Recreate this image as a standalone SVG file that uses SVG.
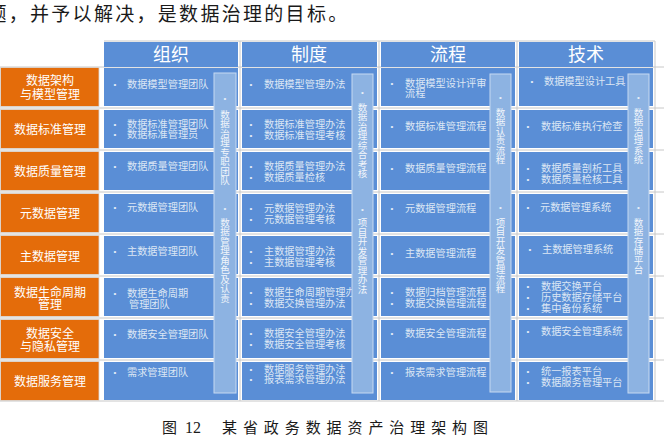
<svg xmlns="http://www.w3.org/2000/svg" width="664" height="437" viewBox="0 0 664 437">
<style>
.cjk{font-family:"Noto Sans CJK SC","Noto Sans",sans-serif}
.hd{fill:#5A8ED6}
.cell{fill:#5A8ED6}
.org{fill:#E46C0A;stroke:#D9D9D9;stroke-width:0.8}
.bar{fill:#8DB3E2;stroke:#C6D9F1;stroke-width:1}
.grid{stroke:#C8C8C8;stroke-width:1}
.ht{font-size:18px;fill:#FFFFFF;text-anchor:middle}
.ot{font-size:12px;fill:#FFFFFF;text-anchor:middle}
.ct{font-size:10.2px;fill:#DCE6F4}
.bu{font-family:"Liberation Sans",sans-serif;font-size:8px;fill:#E6EEF8;text-anchor:middle}
.vt{font-size:9.5px;fill:#F2F6FB;writing-mode:vertical-rl}
</style>
<rect width="664" height="437" fill="#FFFFFF"/>
<text class="cjk" x="-12.6" y="21" font-size="19" letter-spacing="2.3" fill="#1A1A1A">题，并予以解决，是数据治理的目标。</text>

<g id="gridlines">
<line class="grid" x1="0" y1="67" x2="664" y2="67"/>
<line class="grid" x1="0" y1="108" x2="664" y2="108"/>
<line class="grid" x1="0" y1="150" x2="664" y2="150"/>
<line class="grid" x1="0" y1="192" x2="664" y2="192"/>
<line class="grid" x1="0" y1="234" x2="664" y2="234"/>
<line class="grid" x1="0" y1="276" x2="664" y2="276"/>
<line class="grid" x1="0" y1="318" x2="664" y2="318"/>
<line class="grid" x1="0" y1="360" x2="664" y2="360"/>
<line class="grid" x1="0" y1="401" x2="664" y2="401"/>
<line class="grid" x1="104" y1="41" x2="655" y2="41"/>
<line class="grid" x1="240" y1="41" x2="240" y2="401"/>
<line class="grid" x1="379" y1="41" x2="379" y2="401"/>
<line class="grid" x1="517" y1="41" x2="517" y2="401"/>
<line class="grid" x1="655" y1="41" x2="655" y2="401"/>
</g>

<g id="headers">
<g id="h-org"><rect class="hd" x="104" y="42" width="134" height="25"/><text class="cjk ht" x="171" y="61">组织</text></g>
<g id="h-rule"><rect class="hd" x="242" y="42" width="135" height="25"/><text class="cjk ht" x="309" y="61">制度</text></g>
<g id="h-proc"><rect class="hd" x="381" y="42" width="134" height="25"/><text class="cjk ht" x="448" y="61">流程</text></g>
<g id="h-tech"><rect class="hd" x="519" y="42" width="134" height="25"/><text class="cjk ht" x="586" y="61">技术</text></g>
</g>

<g id="rowlabels">
<g id="r1"><rect class="org" x="0.5" y="67.5" width="98.5" height="39"/><text class="cjk ot" x="50" y="84.5">数据架构</text><text class="cjk ot" x="50" y="98.5">与模型管理</text></g>
<g id="r2"><rect class="org" x="0.5" y="109.5" width="98.5" height="39"/><text class="cjk ot" x="50" y="133.5">数据标准管理</text></g>
<g id="r3"><rect class="org" x="0.5" y="151.5" width="98.5" height="39"/><text class="cjk ot" x="50" y="175.5">数据质量管理</text></g>
<g id="r4"><rect class="org" x="0.5" y="193.5" width="98.5" height="39"/><text class="cjk ot" x="50" y="217.5">元数据管理</text></g>
<g id="r5"><rect class="org" x="0.5" y="235.5" width="98.5" height="39"/><text class="cjk ot" x="50" y="260.5">主数据管理</text></g>
<g id="r6"><rect class="org" x="0.5" y="277.5" width="98.5" height="39"/><text class="cjk ot" x="50" y="296.5">数据生命周期</text><text class="cjk ot" x="50" y="308.5">管理</text></g>
<g id="r7"><rect class="org" x="0.5" y="319.5" width="98.5" height="39"/><text class="cjk ot" x="50" y="337.5">数据安全</text><text class="cjk ot" x="50" y="350.5">与隐私管理</text></g>
<g id="r8"><rect class="org" x="0.5" y="361.5" width="98.5" height="39"/><text class="cjk ot" x="50" y="385.5">数据服务管理</text></g>
</g>

<g id="cells">
<g id="col-org">
<rect class="cell" x="104" y="68" width="134" height="38"/>
<rect class="cell" x="104" y="110" width="134" height="38"/>
<rect class="cell" x="104" y="152" width="134" height="38"/>
<rect class="cell" x="104" y="194" width="134" height="38"/>
<rect class="cell" x="104" y="236" width="134" height="38"/>
<rect class="cell" x="104" y="278" width="134" height="38"/>
<rect class="cell" x="104" y="320" width="134" height="38"/>
<rect class="cell" x="104" y="362" width="134" height="38"/>
<text class="bu" x="115" y="86.5">•</text><text class="cjk ct" x="127" y="87.8">数据模型管理团队</text>
<text class="bu" x="115" y="126.5">•</text><text class="cjk ct" x="127" y="127.8">数据标准管理团队</text>
<text class="bu" x="115" y="136.5">•</text><text class="cjk ct" x="127" y="137.8">数据标准管理员</text>
<text class="bu" x="115" y="168.5">•</text><text class="cjk ct" x="127" y="169.8">数据质量管理团队</text>
<text class="bu" x="115" y="209.5">•</text><text class="cjk ct" x="127" y="210.8">元数据管理团队</text>
<text class="bu" x="115" y="253.5">•</text><text class="cjk ct" x="127" y="254.8">主数据管理团队</text>
<text class="bu" x="115" y="295.5">•</text><text class="cjk ct" x="127" y="296.8">数据生命周期</text>
<text class="cjk ct" x="129" y="307.8">管理团队</text>
<text class="bu" x="115" y="336.5">•</text><text class="cjk ct" x="127" y="337.8">数据安全管理团队</text>
<text class="bu" x="115" y="374.5">•</text><text class="cjk ct" x="127" y="375.8">需求管理团队</text>
</g>
<g id="col-rule">
<rect class="cell" x="242" y="68" width="135" height="38"/>
<rect class="cell" x="242" y="110" width="135" height="38"/>
<rect class="cell" x="242" y="152" width="135" height="38"/>
<rect class="cell" x="242" y="194" width="135" height="38"/>
<rect class="cell" x="242" y="236" width="135" height="38"/>
<rect class="cell" x="242" y="278" width="135" height="38"/>
<rect class="cell" x="242" y="320" width="135" height="38"/>
<rect class="cell" x="242" y="362" width="135" height="38"/>
<text class="bu" x="251" y="86.5">•</text><text class="cjk ct" x="264" y="87.8">数据模型管理办法</text>
<text class="bu" x="251" y="126.5">•</text><text class="cjk ct" x="264" y="127.8">数据标准管理办法</text>
<text class="bu" x="251" y="137.5">•</text><text class="cjk ct" x="264" y="138.8">数据标准管理考核</text>
<text class="bu" x="251" y="168.5">•</text><text class="cjk ct" x="264" y="169.8">数据质量管理办法</text>
<text class="bu" x="251" y="179.5">•</text><text class="cjk ct" x="264" y="180.8">数据质量检核</text>
<text class="bu" x="251" y="210.5">•</text><text class="cjk ct" x="264" y="211.8">元数据管理办法</text>
<text class="bu" x="251" y="221.5">•</text><text class="cjk ct" x="264" y="222.8">元数据管理考核</text>
<text class="bu" x="251" y="253.5">•</text><text class="cjk ct" x="264" y="254.8">主数据管理办法</text>
<text class="bu" x="251" y="264.5">•</text><text class="cjk ct" x="264" y="265.8">主数据管理考核</text>
<text class="bu" x="251" y="294.5">•</text><text class="cjk ct" x="264" y="295.8">数据生命周期管理办法</text>
<text class="bu" x="251" y="305.5">•</text><text class="cjk ct" x="264" y="306.8">数据交换管理办法</text>
<text class="bu" x="251" y="335.5">•</text><text class="cjk ct" x="264" y="336.8">数据安全管理办法</text>
<text class="bu" x="251" y="346.5">•</text><text class="cjk ct" x="264" y="347.8">数据安全管理考核</text>
<text class="bu" x="251" y="371.5">•</text><text class="cjk ct" x="264" y="372.8">数据服务管理办法</text>
<text class="bu" x="251" y="381.5">•</text><text class="cjk ct" x="264" y="382.8">报表需求管理办法</text>
</g>
<g id="col-proc">
<rect class="cell" x="381" y="68" width="134" height="38"/>
<rect class="cell" x="381" y="110" width="134" height="38"/>
<rect class="cell" x="381" y="152" width="134" height="38"/>
<rect class="cell" x="381" y="194" width="134" height="38"/>
<rect class="cell" x="381" y="236" width="134" height="38"/>
<rect class="cell" x="381" y="278" width="134" height="38"/>
<rect class="cell" x="381" y="320" width="134" height="38"/>
<rect class="cell" x="381" y="362" width="134" height="38"/>
<text class="bu" x="392" y="85.5">•</text><text class="cjk ct" x="405" y="86.8">数据模型设计评审</text>
<text class="cjk ct" x="405" y="96.8">流程</text>
<text class="bu" x="392" y="128.5">•</text><text class="cjk ct" x="405" y="129.8">数据标准管理流程</text>
<text class="bu" x="392" y="170.5">•</text><text class="cjk ct" x="405" y="171.8">数据质量管理流程</text>
<text class="bu" x="392" y="210.5">•</text><text class="cjk ct" x="405" y="211.8">元数据管理流程</text>
<text class="bu" x="392" y="255.5">•</text><text class="cjk ct" x="405" y="256.8">主数据管理流程</text>
<text class="bu" x="392" y="294.5">•</text><text class="cjk ct" x="405" y="295.8">数据归档管理流程</text>
<text class="bu" x="392" y="305.5">•</text><text class="cjk ct" x="405" y="306.8">数据交换管理流程</text>
<text class="bu" x="392" y="335.5">•</text><text class="cjk ct" x="405" y="336.8">数据安全管理流程</text>
<text class="bu" x="392" y="374.5">•</text><text class="cjk ct" x="405" y="375.8">报表需求管理流程</text>
</g>
<g id="col-tech">
<rect class="cell" x="519" y="68" width="134" height="38"/>
<rect class="cell" x="519" y="110" width="134" height="38"/>
<rect class="cell" x="519" y="152" width="134" height="38"/>
<rect class="cell" x="519" y="194" width="134" height="38"/>
<rect class="cell" x="519" y="236" width="134" height="38"/>
<rect class="cell" x="519" y="278" width="134" height="38"/>
<rect class="cell" x="519" y="320" width="134" height="38"/>
<rect class="cell" x="519" y="362" width="134" height="38"/>
<text class="bu" x="532" y="83.5">•</text><text class="cjk ct" x="544" y="84.8">数据模型设计工具</text>
<text class="bu" x="528" y="128.5">•</text><text class="cjk ct" x="541" y="129.8">数据标准执行检查</text>
<text class="bu" x="528" y="170.5">•</text><text class="cjk ct" x="541" y="171.8">数据质量剖析工具</text>
<text class="bu" x="528" y="181.5">•</text><text class="cjk ct" x="541" y="182.8">数据质量检核工具</text>
<text class="bu" x="528" y="209.5">•</text><text class="cjk ct" x="540" y="210.8">元数据管理系统</text>
<text class="bu" x="530" y="251.5">•</text><text class="cjk ct" x="542" y="252.8">主数据管理系统</text>
<text class="bu" x="528" y="288.5">•</text><text class="cjk ct" x="541" y="289.8">数据交换平台</text>
<text class="bu" x="528" y="299.5">•</text><text class="cjk ct" x="541" y="300.8">历史数据存储平台</text>
<text class="bu" x="528" y="310.5">•</text><text class="cjk ct" x="541" y="311.8">集中备份系统</text>
<text class="bu" x="528" y="333.5">•</text><text class="cjk ct" x="541" y="334.8">数据安全管理系统</text>
<text class="bu" x="528" y="373.5">•</text><text class="cjk ct" x="541" y="374.8">统一报表平台</text>
<text class="bu" x="528" y="384.5">•</text><text class="cjk ct" x="541" y="385.8">数据服务管理平台</text>
</g>
</g>

<g id="bars">
<g id="bar-org"><rect class="bar" x="214" y="73" width="22" height="320"/>
<text class="bu" x="225" y="100.5">•</text><text class="cjk vt" x="225" y="109.5">数据治理专职团队</text>
<text class="bu" x="225" y="210.5">•</text><text class="cjk vt" x="225" y="217.5">数据管理角色及认责</text></g>
<g id="bar-rule"><rect class="bar" x="352" y="74" width="21" height="319"/>
<text class="bu" x="362.5" y="94.5">•</text><text class="cjk vt" x="362.5" y="102.5">数据治理综合考核</text>
<text class="bu" x="362.5" y="211.5">•</text><text class="cjk vt" x="362.5" y="218">项目开发管理办法</text></g>
<g id="bar-proc"><rect class="bar" x="490" y="74" width="21" height="318"/>
<text class="bu" x="500.5" y="99.5">•</text><text class="cjk vt" x="500.5" y="107.5">数据认责流程</text>
<text class="bu" x="500.5" y="209.5">•</text><text class="cjk vt" x="500.5" y="217.5">项目开发管理流程</text></g>
<g id="bar-tech"><rect class="bar" x="628" y="74" width="21" height="319"/>
<text class="bu" x="638.5" y="99.5">•</text><text class="cjk vt" x="638.5" y="107.5">数据治理系统</text>
<text class="bu" x="638.5" y="209.5">•</text><text class="cjk vt" x="638.5" y="217.5">数据存储平台</text></g>
</g>

<g id="caption">
<text class="cjk" x="162" y="433" font-size="15" fill="#1A1A1A">图</text>
<text x="185" y="433" font-family="Liberation Serif, serif" font-size="16" fill="#1A1A1A">12</text>
<text class="cjk" x="222" y="433" font-size="15" fill="#1A1A1A" textLength="266" lengthAdjust="spacing">某省政务数据资产治理架构图</text>
</g>
</svg>
